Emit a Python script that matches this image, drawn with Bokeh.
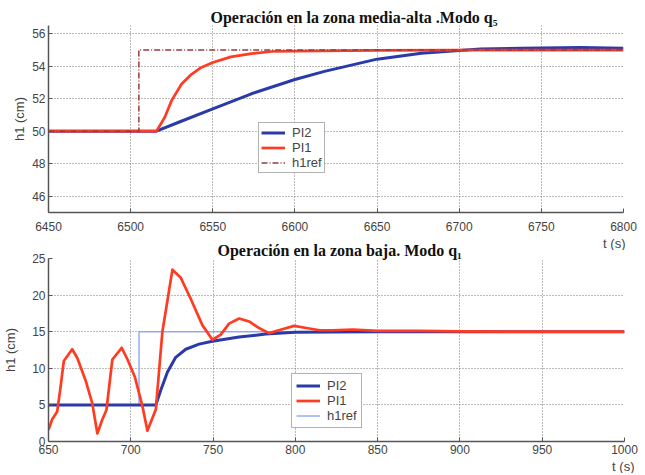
from bokeh.plotting import figure
from bokeh.layouts import column
from bokeh.models import Legend, LegendItem, Title, FixedTicker, Range1d
from bokeh.embed import file_html
from bokeh.resources import INLINE

# ---- top panel data (zona media-alta, modo q5) ----
top_t_ref = [6450, 6505, 6505, 6800]
top_ref = [50, 50, 55, 55]
top_t_pi1 = [6450, 6515.7, 6520.8, 6524.9, 6531, 6537, 6543, 6550, 6561, 6573.5, 6585.7, 6600, 6650, 6700, 6750, 6800]
top_pi1 = [50, 50, 50.86, 51.88, 52.9, 53.5, 53.92, 54.22, 54.57, 54.77, 54.9, 54.93, 54.97, 54.98, 54.98, 54.98]
top_t_pi2 = [6450, 6515.7, 6530, 6550, 6573.5, 6600, 6618, 6650, 6677, 6700, 6713, 6738, 6774, 6800]
top_pi2 = [50, 50, 50.58, 51.37, 52.3, 53.18, 53.68, 54.43, 54.8, 54.97, 55.05, 55.1, 55.14, 55.1]
top_xticks = [6450, 6500, 6550, 6600, 6650, 6700, 6750, 6800]
top_yticks = [46, 48, 50, 52, 54, 56]

# ---- bottom panel data (zona baja, modo q1) ----
bot_t_ref = [650, 705, 705, 1000]
bot_ref = [5, 5, 15, 15]
bot_t_pi1 = [650, 652.2, 655.3, 657.3, 659.3, 664.4, 667.5, 672.6, 676.6, 679.7, 682.7, 685.2, 688.8,
             694.5, 698, 702.5, 707.1, 710.1, 715.2, 719.2, 725.3, 730.4, 736.4, 743.5, 749.6, 754.7,
             759.7, 765.8, 771.9, 777.9, 784, 790, 799.2, 806.7, 814.8, 822.6, 835, 850, 875, 900, 950, 1000]
bot_pi1 = [1.6, 3.0, 4.1, 7.4, 11.0, 12.6, 11.4, 8.3, 5.2, 1.1, 3.0, 4.3, 11.2,
           12.8, 11.2, 8.8, 4.8, 1.47, 4.36, 15, 23.47, 22.36, 19.5, 15.9, 13.9, 14.6,
           16.1, 16.8, 16.4, 15.5, 14.8, 15.2, 15.8, 15.5, 15.2, 15.2, 15.3, 15.1, 15.1, 15.05, 15, 15]
bot_t_pi2 = [650, 715.2, 718.2, 722.3, 727.3, 733.4, 741.5, 749.6, 765.8, 782, 799.8, 822.6, 850, 900, 1000]
bot_pi2 = [5, 5, 7.0, 9.5, 11.5, 12.6, 13.3, 13.7, 14.27, 14.67, 14.93, 14.97, 15, 15, 15]
bot_xticks = [650, 700, 750, 800, 850, 900, 950, 1000]
bot_yticks = [0, 5, 10, 15, 20, 25]

top_title = "Operación en la zona media-alta .Modo  q₅"
bot_title = "Operación en la zona baja. Modo  q₁"
ylab = "h1 (cm)"
xlab = "t (s)"

BLUE = "#2a3aa8"
RED = "#ff3b22"
REF_TOP = "#9a3a3a"
REF_BOT = "#8da2ee"
AX = "#555555"
TXT = "#444444"
TITLE_FONT = "Liberation Serif"


def style(p, xticks, yticks, xstandoff, ylab_standoff):
    p.outline_line_color = None
    p.background_fill_color = "white"
    for ax in (p.xaxis[0], p.yaxis[0]):
        ax.axis_line_color = AX
        ax.axis_line_width = 1.5
        ax.major_tick_line_color = AX
        ax.major_tick_in = 4
        ax.major_tick_out = 0
        ax.minor_tick_line_color = None
        ax.major_label_text_font = "Liberation Sans"
        ax.major_label_text_font_size = "12px"
        ax.major_label_text_color = TXT
    p.xaxis[0].major_label_standoff = xstandoff
    p.yaxis[0].major_label_standoff = 3
    p.xaxis[0].ticker = FixedTicker(ticks=xticks)
    p.yaxis[0].ticker = FixedTicker(ticks=yticks)
    p.yaxis[0].axis_label = ylab
    p.yaxis[0].axis_label_text_font = "Liberation Sans"
    p.yaxis[0].axis_label_text_font_size = "13px"
    p.yaxis[0].axis_label_text_font_style = "normal"
    p.yaxis[0].axis_label_text_color = TXT
    p.yaxis[0].axis_label_standoff = ylab_standoff
    p.xgrid[0].ticker = FixedTicker(ticks=xticks)
    p.ygrid[0].ticker = FixedTicker(ticks=yticks)
    for g in (p.xgrid[0], p.ygrid[0]):
        g.grid_line_color = "#777777"
        g.grid_line_dash = "1 2"
        g.grid_line_width = 1


def set_title(p, text, offset):
    p.title.text = text
    p.title.align = "left"
    p.title.offset = offset
    p.title.standoff = 0
    p.title.text_font = TITLE_FONT
    p.title.text_font_style = "bold"
    p.title.text_font_size = "16px"
    p.title.text_color = "#111111"


def t_label(p, offset, size):
    p.add_layout(Title(text=xlab, align="right", offset=offset, standoff=0,
                       text_font="Liberation Sans", text_font_style="normal",
                       text_font_size=size, text_color=TXT), "below")


def legend(items, loc, gw, pad, row):
    return Legend(items=items, location=loc, label_text_font="Liberation Sans",
                  label_text_font_size="13px", label_text_color=TXT,
                  glyph_width=gw, glyph_height=row, label_height=row,
                  spacing=0, padding=pad, margin=0, border_line_color="#666666",
                  border_line_width=1, background_fill_alpha=1.0, label_standoff=7)


# ---------------- top ----------------
p1 = figure(frame_width=575, frame_height=187, output_backend="svg", toolbar_location=None,
            x_range=Range1d(6450, 6800), y_range=Range1d(45, 56.5),
            min_border_left=47, min_border_right=23, min_border_top=25, min_border_bottom=0)
style(p1, top_xticks, top_yticks, 9, 2)
p1.border_fill_color = "white"
set_title(p1, top_title, 162)
r_pi2 = p1.line(top_t_pi2, top_pi2, line_color=BLUE, line_width=3, line_join="round")
r_pi1 = p1.line(top_t_pi1, top_pi1, line_color=RED, line_width=2.7, line_join="round")
r_ref = p1.line(top_t_ref, top_ref, line_color=REF_TOP, line_width=1.5, line_dash="6 2 1 2")
p1.add_layout(legend([LegendItem(label="PI2", renderers=[r_pi2]),
                      LegendItem(label="PI1", renderers=[r_pi1]),
                      LegendItem(label="h1ref", renderers=[r_ref])], (210, 39), 24, 2, 15))
t_label(p1, -2, "13px")

# ---------------- bottom ----------------
p2 = figure(frame_width=576, frame_height=183, output_backend="svg", toolbar_location=None,
            x_range=Range1d(650, 1000), y_range=Range1d(0, 25),
            min_border_left=47, min_border_right=22, min_border_top=0, min_border_bottom=0,
            margin=(-11, 0, 0, 0))
style(p2, bot_xticks, bot_yticks, 3, 11)
p2.border_fill_alpha = 0.0
set_title(p2, bot_title, 169)
q_ref = p2.line(bot_t_ref, bot_ref, line_color=REF_BOT, line_width=1.5, line_alpha=0.9)
q_pi2 = p2.line(bot_t_pi2, bot_pi2, line_color=BLUE, line_width=3, line_join="round")
q_pi1 = p2.line(bot_t_pi1, bot_pi1, line_color=RED, line_width=2.7, line_join="round")
p2.add_layout(legend([LegendItem(label="PI2", renderers=[q_pi2]),
                      LegendItem(label="PI1", renderers=[q_pi1]),
                      LegendItem(label="h1ref", renderers=[q_ref])], (243, 13), 24, 4, 15))
t_label(p2, -10, "13px")

layout = column(p1, p2, spacing=0)
open("out.html", "w").write(file_html(layout, INLINE))
